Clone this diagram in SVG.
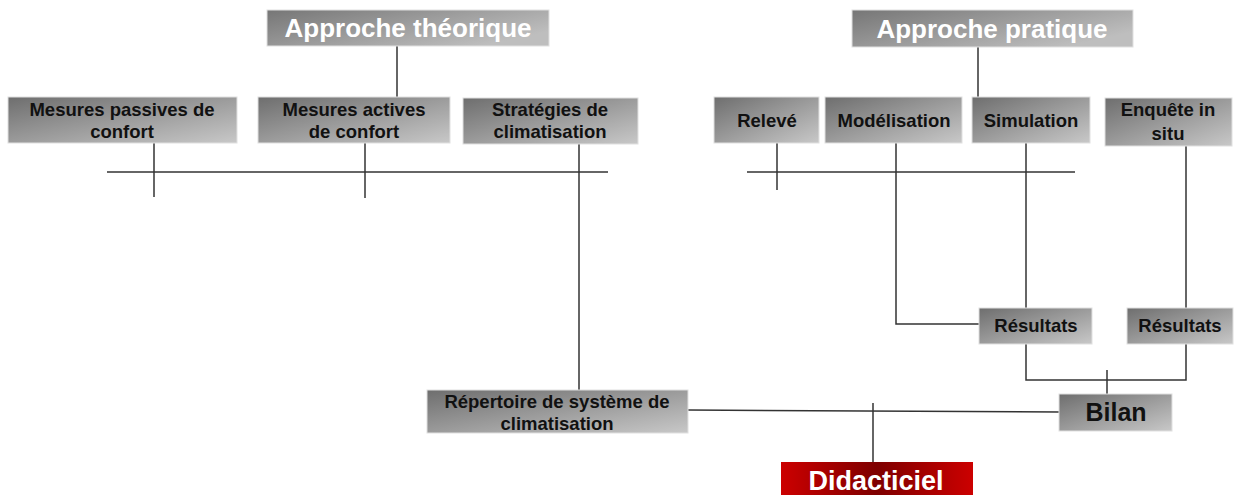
<svg xmlns="http://www.w3.org/2000/svg" width="1238" height="495" viewBox="0 0 1238 495">
<defs>
<linearGradient id="g" x1="0" y1="0" x2="1" y2="1">
<stop offset="0" stop-color="#6e6e6e"/>
<stop offset="1" stop-color="#c8c8c8"/>
</linearGradient>
<linearGradient id="gt" x1="0" y1="0" x2="1" y2="0.6">
<stop offset="0" stop-color="#767676"/>
<stop offset="1" stop-color="#bebebe"/>
</linearGradient>
<linearGradient id="gr" x1="0" y1="0" x2="1" y2="0">
<stop offset="0" stop-color="#cc0000"/>
<stop offset="0.5" stop-color="#7e0000"/>
<stop offset="1" stop-color="#cc0000"/>
</linearGradient>
<style>
.b{fill:url(#g);stroke:#e0e0e0;stroke-width:1}
.bt{fill:url(#gt);stroke:#e0e0e0;stroke-width:1}
.t{font-family:"Liberation Sans",Arial,sans-serif;font-weight:bold;font-size:18.5px;fill:#111;text-anchor:middle}
.tt{font-family:"Liberation Sans",Arial,sans-serif;font-weight:bold;font-size:26px;fill:#fff;text-anchor:middle}
.l{stroke:#333;stroke-width:1.5;fill:none}
</style>
</defs>
<g id="connectors">
<line class="l" x1="397" y1="46" x2="397" y2="97"/>
<line class="l" x1="107" y1="172" x2="608" y2="172"/>
<line class="l" x1="154" y1="143" x2="154" y2="197"/>
<line class="l" x1="365" y1="143" x2="365" y2="198"/>
<line class="l" x1="579" y1="143" x2="579" y2="390"/>
<line class="l" x1="978" y1="46" x2="978" y2="97"/>
<line class="l" x1="747" y1="172" x2="1075" y2="172"/>
<line class="l" x1="777" y1="143" x2="777" y2="190"/>
<polyline class="l" points="896,143 896,324 980,324"/>
<line class="l" x1="1026" y1="143" x2="1026" y2="308"/>
<line class="l" x1="1186" y1="146" x2="1186" y2="308"/>
<polyline class="l" points="1026,344 1026,380 1186,380 1186,344"/>
<line class="l" x1="1107" y1="370" x2="1107" y2="395"/>
<line class="l" x1="688" y1="410" x2="1060" y2="412"/>
<line class="l" x1="873" y1="403" x2="873" y2="462"/>
</g>
<g id="approche-theorique">
<rect class="bt" x="267" y="10" width="282" height="36"/>
<text class="tt" x="408" y="37">Approche théorique</text>
</g>
<g id="mesures-passives">
<rect class="b" x="8" y="97" width="229" height="46"/>
<text class="t" x="122" y="116">Mesures passives de</text>
<text class="t" x="122" y="138">confort</text>
</g>
<g id="mesures-actives">
<rect class="b" x="258" y="97" width="192" height="46"/>
<text class="t" x="354" y="116">Mesures actives</text>
<text class="t" x="354" y="138">de confort</text>
</g>
<g id="strategies">
<rect class="b" x="463" y="98" width="175" height="46"/>
<text class="t" x="550" y="116">Stratégies de</text>
<text class="t" x="550" y="138">climatisation</text>
</g>
<g id="approche-pratique">
<rect class="bt" x="852" y="10" width="281" height="37"/>
<text class="tt" x="992" y="38">Approche pratique</text>
</g>
<g id="releve">
<rect class="b" x="714" y="97" width="105" height="46"/>
<text class="t" x="767" y="127">Relevé</text>
</g>
<g id="modelisation">
<rect class="b" x="825" y="97" width="137" height="46"/>
<text class="t" x="894" y="127">Modélisation</text>
</g>
<g id="simulation">
<rect class="b" x="972" y="97" width="118" height="46"/>
<text class="t" x="1031" y="127">Simulation</text>
</g>
<g id="enquete">
<rect class="b" x="1105" y="98" width="127" height="48"/>
<text class="t" x="1168" y="116">Enquête in</text>
<text class="t" x="1168" y="140">situ</text>
</g>
<g id="resultats-1">
<rect class="b" x="979" y="308" width="113" height="36"/>
<text class="t" x="1036" y="332">Résultats</text>
</g>
<g id="resultats-2">
<rect class="b" x="1127" y="308" width="106" height="36"/>
<text class="t" x="1180" y="332">Résultats</text>
</g>
<g id="repertoire">
<rect class="b" x="427" y="390" width="261" height="43"/>
<text class="t" x="557" y="408">Répertoire de système de</text>
<text class="t" x="557" y="430">climatisation</text>
</g>
<g id="bilan">
<rect class="b" x="1059" y="394" width="113" height="37"/>
<text class="t" x="1116" y="421" style="font-size:25px">Bilan</text>
</g>
<g id="didacticiel">
<rect x="781" y="462" width="192" height="40" fill="url(#gr)"/>
<text class="tt" x="876" y="490" style="font-size:27px">Didacticiel</text>
</g>
</svg>
